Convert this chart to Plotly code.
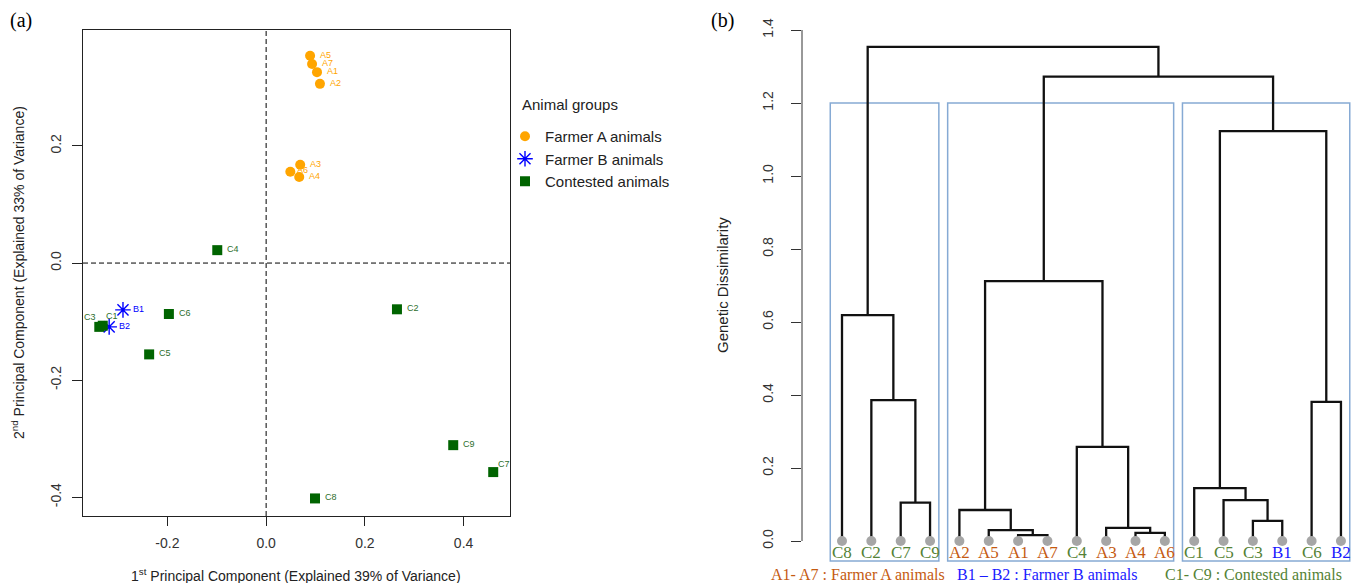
import plotly.graph_objects as go

# ---------------- PCA data (panel a) ----------------
a_labels = ["A1", "A2", "A3", "A4", "A5", "A6", "A7"]
a_pc1 = [0.103, 0.109, 0.069, 0.067, 0.089, 0.049, 0.093]
a_pc2 = [0.326, 0.306, 0.168, 0.147, 0.354, 0.156, 0.340]

b_labels = ["B1", "B2"]
b_pc1 = [-0.290, -0.318]
b_pc2 = [-0.080, -0.109]

c_labels = ["C1", "C2", "C3", "C4", "C5", "C6", "C7", "C8", "C9"]
c_pc1 = [-0.331, 0.265, -0.338, -0.099, -0.237, -0.197, 0.460, 0.099, 0.379]
c_pc2 = [-0.107, -0.079, -0.109, 0.022, -0.156, -0.087, -0.357, -0.402, -0.311]

pc_ticks = [-0.4, -0.2, 0.0, 0.2, 0.4]

# ---------------- Dendrogram data (panel b) ----------------
leaf_order = ["C8", "C2", "C7", "C9", "A2", "A5", "A1", "A7", "C4", "A3", "A4", "A6",
              "C1", "C5", "C3", "B1", "C6", "B2"]
merge_left = ["A1", "A4", "A5", "A3", "C3", "A2", "C7", "C5", "C1", "C4", "C6", "C2",
              "C8", "m6", "m9", "m14", "m13"]
merge_right = ["A7", "A6", "m1", "m2", "B1", "m3", "C9", "m5", "m8", "m4", "B2", "m7",
               "m12", "m10", "m11", "m15", "m16"]
merge_height = [0.016, 0.022, 0.030, 0.036, 0.055, 0.085, 0.105, 0.112, 0.145, 0.258,
                0.381, 0.386, 0.619, 0.712, 1.123, 1.272, 1.354]
cut_height = 1.2
dis_ticks = [0.0, 0.2, 0.4, 0.6, 0.8, 1.0, 1.2, 1.4]

legend_notes = ["A1- A7 : Farmer A animals", "B1 \u2013 B2 : Farmer B animals",
                "C1- C9 : Contested animals"]

# ---------------- styles ----------------
W, H = 1353, 583
SANS = "Arial, Liberation Sans, sans-serif"
SERIF = "Times New Roman, Liberation Serif, serif"
COL_A, COL_B, COL_C = "#FFA500", "#0000FF", "#006400"
LBL_C = "#2d6e2d"
LEAF_COL = {"A": "#C55A11", "B": "#1a1aff", "C": "#548235"}
BOX_COL = "#86aad4"
DEND_AXIS_PX = 802      # x pixel of dendrogram y-axis line
LEAF1_PX = 842          # x pixel of first leaf
LEAF_STEP = 29.35       # pixels between leaves


def px_x(p):
    return p / W


def px_y(p):
    return 1 - p / H


fig = go.Figure()

# ---- panel a: points ----
fig.add_trace(go.Scatter(x=a_pc1, y=a_pc2, mode="markers", name="Farmer A animals",
                         marker=dict(symbol="circle", size=10, color=COL_A),
                         xaxis="x", yaxis="y", hoverinfo="skip"))
fig.add_trace(go.Scatter(x=b_pc1, y=b_pc2, mode="markers", name="Farmer B animals",
                         marker=dict(symbol="asterisk-open", size=13, color=COL_B,
                                     line=dict(color=COL_B, width=1.4)),
                         xaxis="x", yaxis="y", hoverinfo="skip"))
fig.add_trace(go.Scatter(x=c_pc1, y=c_pc2, mode="markers", name="Contested animals",
                         marker=dict(symbol="square", size=10, color=COL_C),
                         xaxis="x", yaxis="y", hoverinfo="skip"))

annotations = []

# point labels (label placement: pixel shifts per label)
label_shift = {"C3": (-1, 10, "right"), "C1": (1, 10, "left"), "C7": (3, 8, "left"),
               "A5": (8, 1, "left"), "A6": (5, 2, "left")}
for xs, ys, labs, col in [(a_pc1, a_pc2, a_labels, COL_A), (b_pc1, b_pc2, b_labels, COL_B),
                          (c_pc1, c_pc2, c_labels, LBL_C)]:
    for x, y, lab in zip(xs, ys, labs):
        dx, dy, anc = label_shift.get(lab, (8, 1, "left"))
        annotations.append(dict(x=x, y=y, xref="x", yref="y", text=lab, showarrow=False,
                                xanchor=anc, yanchor="middle", xshift=dx, yshift=dy,
                                font=dict(family=SANS, size=9, color=col)))

# ---- panel b: dendrogram ----
nodes = {}
for i, lab in enumerate(leaf_order):
    nodes[lab] = (i + 1.0, 0.0)
seg_x, seg_y = [], []
for i, (l, r, h) in enumerate(zip(merge_left, merge_right, merge_height)):
    xl, hl = nodes[l]
    xr, hr = nodes[r]
    seg_x += [xl, xl, xr, xr, None]
    seg_y += [hl, h, h, hr, None]
    nodes["m%d" % (i + 1)] = ((xl + xr) / 2, h)

fig.add_trace(go.Scatter(x=seg_x, y=seg_y, mode="lines",
                         line=dict(color="#111111", width=2.3),
                         showlegend=False, xaxis="x2", yaxis="y2", hoverinfo="skip"))
fig.add_trace(go.Scatter(x=[nodes[l][0] for l in leaf_order], y=[0.0] * len(leaf_order),
                         mode="markers", marker=dict(size=10, color="#a6a6a6"),
                         showlegend=False, xaxis="x2", yaxis="y2", hoverinfo="skip",
                         cliponaxis=False))

# clusters at cut height -> boxes
children = {}
for i, (l, r) in enumerate(zip(merge_left, merge_right)):
    children["m%d" % (i + 1)] = (l, r)
parent_h = {}
for i, (l, r, h) in enumerate(zip(merge_left, merge_right, merge_height)):
    parent_h[l] = h
    parent_h[r] = h


def leaves_of(n):
    if n in children:
        return leaves_of(children[n][0]) + leaves_of(children[n][1])
    return [n]


shapes = []
for i, h in enumerate(merge_height):
    name = "m%d" % (i + 1)
    if h < cut_height and parent_h.get(name, 99) >= cut_height:
        xs = [nodes[l][0] for l in leaves_of(name)]
        shapes.append(dict(type="rect", xref="x2", yref="y2", x0=min(xs) - 0.4,
                           x1=max(xs) + 0.3, y0=-0.055, y1=cut_height,
                           line=dict(color=BOX_COL, width=1.5), layer="below"))

# y axis line of dendrogram (only spans the tick range)
shapes.append(dict(type="line", xref="x2 domain", yref="y2", x0=0, x1=0,
                   y0=dis_ticks[0], y1=dis_ticks[-1], line=dict(color="#333333", width=1)))

# dashed zero lines for PCA
shapes.append(dict(type="line", xref="x", yref="y domain", x0=0, x1=0, y0=0, y1=1,
                   line=dict(color="black", width=1, dash="5px,3px")))
shapes.append(dict(type="line", xref="x domain", yref="y", x0=0, x1=1, y0=0, y1=0,
                   line=dict(color="black", width=1, dash="5px,3px")))

for lab in leaf_order:
    annotations.append(dict(x=nodes[lab][0], y=0, xref="x2", yref="y2", text=lab,
                            showarrow=False, yshift=-11,
                            font=dict(family=SERIF, size=17, color=LEAF_COL[lab[0]])))

note_cols = [LEAF_COL["A"], LEAF_COL["B"], LEAF_COL["C"]]
note_x = [858, 1047, 1253]
for txt, col, xc in zip(legend_notes, note_cols, note_x):
    annotations.append(dict(x=px_x(xc), y=px_y(574), xref="paper", yref="paper", text=txt,
                            showarrow=False, xanchor="center", yanchor="middle",
                            font=dict(family=SERIF, size=16, color=col)))

annotations += [
    dict(x=px_x(8), y=px_y(20), xref="paper", yref="paper", text="(a)", showarrow=False,
         xanchor="left", yanchor="middle", font=dict(family=SERIF, size=20, color="black")),
    dict(x=px_x(709), y=px_y(20), xref="paper", yref="paper", text="(b)", showarrow=False,
         xanchor="left", yanchor="middle", font=dict(family=SERIF, size=20, color="black")),
    dict(x=px_x(296), y=px_y(574.5), xref="paper", yref="paper",
         text="1<sup>st</sup> Principal Component (Explained 39% of Variance)",
         showarrow=False, xanchor="center", yanchor="middle",
         font=dict(family=SANS, size=14, color="#222222")),
    dict(x=px_x(18), y=px_y(273), xref="paper", yref="paper",
         text="2<sup>nd</sup> Principal Component (Explained 33% of Variance)",
         showarrow=False, xanchor="center", yanchor="middle", textangle=-90,
         font=dict(family=SANS, size=14, color="#222222")),
    dict(x=px_x(722), y=px_y(285), xref="paper", yref="paper", text="Genetic Dissimilarity",
         showarrow=False, xanchor="center", yanchor="middle", textangle=-90,
         font=dict(family=SANS, size=15, color="#222222")),
    dict(x=px_x(520), y=px_y(104), xref="paper", yref="paper", text="Animal groups",
         showarrow=False, xanchor="left", yanchor="middle",
         font=dict(family=SANS, size=15, color="#222222")),
]

tickfont = dict(family=SANS, size=14, color="#333333")
fig.update_layout(
    template="none",
    width=W, height=H, margin=dict(l=0, r=0, t=0, b=0, pad=0),
    paper_bgcolor="white", plot_bgcolor="white",
    xaxis=dict(domain=[px_x(83), px_x(510)], range=[-0.371, 0.494], automargin=False,
               tickvals=pc_ticks[1:], ticktext=["%.1f" % v for v in pc_ticks[1:]],
               showline=True, mirror=True, linecolor="#222222", linewidth=1,
               ticks="outside", ticklen=9, tickcolor="#222222", showgrid=False,
               zeroline=False, tickfont=tickfont, anchor="y", ticklabelstandoff=5),
    yaxis=dict(domain=[px_y(516), px_y(30)], range=[-0.432, 0.398], automargin=False,
               tickvals=pc_ticks[:4], ticktext=["%.1f" % v for v in pc_ticks[:4]],
               showline=True, mirror=True, linecolor="#222222", linewidth=1,
               ticks="outside", ticklen=10, tickcolor="#222222", showgrid=False,
               zeroline=False, tickfont=tickfont, tickangle=-90, anchor="x",
               ticklabelstandoff=5),
    xaxis2=dict(domain=[px_x(DEND_AXIS_PX), 1.0],
                range=[1 - (LEAF1_PX - DEND_AXIS_PX) / LEAF_STEP,
                       1 + (W - LEAF1_PX) / LEAF_STEP],
                visible=False, anchor="y2", automargin=False),
    yaxis2=dict(domain=[px_y(562.9), px_y(30)], range=[-0.06, 1.4], automargin=False,
                tickvals=dis_ticks, ticktext=["%.1f" % v for v in dis_ticks],
                showline=False, ticks="outside", ticklen=10, tickcolor="#333333",
                showgrid=False, zeroline=False, tickfont=tickfont, tickangle=-90,
                anchor="x2", ticklabelstandoff=12),
    legend=dict(x=px_x(505), y=px_y(120), xanchor="left", yanchor="top",
                font=dict(family=SANS, size=15, color="#222222"),
                bgcolor="rgba(0,0,0,0)", borderwidth=0, itemwidth=30, tracegroupgap=0),
    showlegend=True,
    shapes=shapes, annotations=annotations,
)

post = ("document.body.style.margin='0px';"
        "var d=document.getElementById('{plot_id}');"
        "d.style.position='absolute';d.style.left='0px';d.style.top='0px';")
fig.write_html("out.html", post_script=post, config={"displayModeBar": False})
